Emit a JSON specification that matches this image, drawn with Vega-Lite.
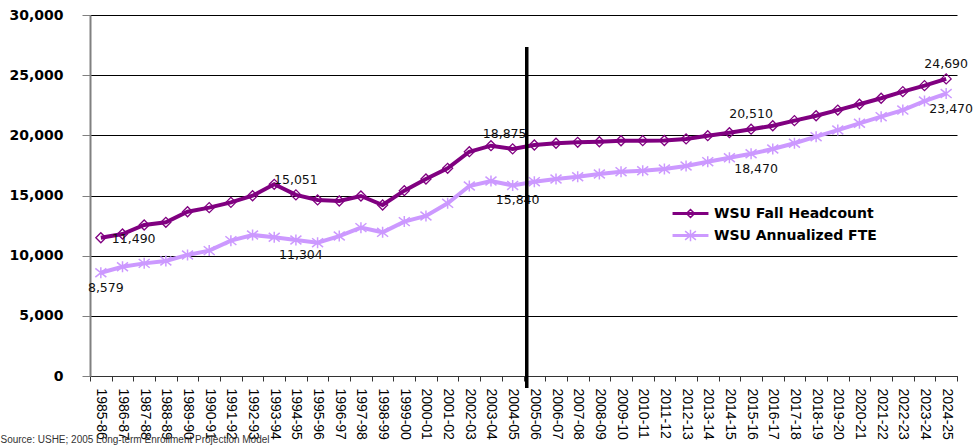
{
  "$schema": "https://vega.github.io/schema/vega-lite/v6.json",
  "width": 867,
  "height": 361,
  "autosize": {"type": "none"},
  "padding": {"left": 90, "top": 15, "right": 22, "bottom": 70},
  "background": "white",
  "config": {"view": {"stroke": null}, "font": "Liberation Sans"},
  "data": {"values": [
    {"year": "1985-86", "series": "WSU Fall Headcount", "value": 11490, "labeled": true},
    {"year": "1986-87", "series": "WSU Fall Headcount", "value": 11800, "labeled": false},
    {"year": "1987-88", "series": "WSU Fall Headcount", "value": 12550, "labeled": false},
    {"year": "1988-89", "series": "WSU Fall Headcount", "value": 12770, "labeled": false},
    {"year": "1989-90", "series": "WSU Fall Headcount", "value": 13650, "labeled": false},
    {"year": "1990-91", "series": "WSU Fall Headcount", "value": 13990, "labeled": false},
    {"year": "1991-92", "series": "WSU Fall Headcount", "value": 14430, "labeled": false},
    {"year": "1992-93", "series": "WSU Fall Headcount", "value": 14980, "labeled": false},
    {"year": "1993-94", "series": "WSU Fall Headcount", "value": 15930, "labeled": false},
    {"year": "1994-95", "series": "WSU Fall Headcount", "value": 15051, "labeled": true},
    {"year": "1995-96", "series": "WSU Fall Headcount", "value": 14630, "labeled": false},
    {"year": "1996-97", "series": "WSU Fall Headcount", "value": 14540, "labeled": false},
    {"year": "1997-98", "series": "WSU Fall Headcount", "value": 14960, "labeled": false},
    {"year": "1998-99", "series": "WSU Fall Headcount", "value": 14210, "labeled": false},
    {"year": "1999-00", "series": "WSU Fall Headcount", "value": 15400, "labeled": false},
    {"year": "2000-01", "series": "WSU Fall Headcount", "value": 16370, "labeled": false},
    {"year": "2001-02", "series": "WSU Fall Headcount", "value": 17260, "labeled": false},
    {"year": "2002-03", "series": "WSU Fall Headcount", "value": 18640, "labeled": false},
    {"year": "2003-04", "series": "WSU Fall Headcount", "value": 19140, "labeled": false},
    {"year": "2004-05", "series": "WSU Fall Headcount", "value": 18875, "labeled": true},
    {"year": "2005-06", "series": "WSU Fall Headcount", "value": 19200, "labeled": false},
    {"year": "2006-07", "series": "WSU Fall Headcount", "value": 19340, "labeled": false},
    {"year": "2007-08", "series": "WSU Fall Headcount", "value": 19420, "labeled": false},
    {"year": "2008-09", "series": "WSU Fall Headcount", "value": 19470, "labeled": false},
    {"year": "2009-10", "series": "WSU Fall Headcount", "value": 19550, "labeled": false},
    {"year": "2010-11", "series": "WSU Fall Headcount", "value": 19560, "labeled": false},
    {"year": "2011-12", "series": "WSU Fall Headcount", "value": 19570, "labeled": false},
    {"year": "2012-13", "series": "WSU Fall Headcount", "value": 19700, "labeled": false},
    {"year": "2013-14", "series": "WSU Fall Headcount", "value": 19970, "labeled": false},
    {"year": "2014-15", "series": "WSU Fall Headcount", "value": 20220, "labeled": false},
    {"year": "2015-16", "series": "WSU Fall Headcount", "value": 20510, "labeled": true},
    {"year": "2016-17", "series": "WSU Fall Headcount", "value": 20800, "labeled": false},
    {"year": "2017-18", "series": "WSU Fall Headcount", "value": 21220, "labeled": false},
    {"year": "2018-19", "series": "WSU Fall Headcount", "value": 21630, "labeled": false},
    {"year": "2019-20", "series": "WSU Fall Headcount", "value": 22100, "labeled": false},
    {"year": "2020-21", "series": "WSU Fall Headcount", "value": 22580, "labeled": false},
    {"year": "2021-22", "series": "WSU Fall Headcount", "value": 23080, "labeled": false},
    {"year": "2022-23", "series": "WSU Fall Headcount", "value": 23630, "labeled": false},
    {"year": "2023-24", "series": "WSU Fall Headcount", "value": 24130, "labeled": false},
    {"year": "2024-25", "series": "WSU Fall Headcount", "value": 24690, "labeled": true},
    {"year": "1985-86", "series": "WSU Annualized FTE", "value": 8579, "labeled": true},
    {"year": "1986-87", "series": "WSU Annualized FTE", "value": 9080, "labeled": false},
    {"year": "1987-88", "series": "WSU Annualized FTE", "value": 9360, "labeled": false},
    {"year": "1988-89", "series": "WSU Annualized FTE", "value": 9560, "labeled": false},
    {"year": "1989-90", "series": "WSU Annualized FTE", "value": 10060, "labeled": false},
    {"year": "1990-91", "series": "WSU Annualized FTE", "value": 10420, "labeled": false},
    {"year": "1991-92", "series": "WSU Annualized FTE", "value": 11250, "labeled": false},
    {"year": "1992-93", "series": "WSU Annualized FTE", "value": 11720, "labeled": false},
    {"year": "1993-94", "series": "WSU Annualized FTE", "value": 11530, "labeled": false},
    {"year": "1994-95", "series": "WSU Annualized FTE", "value": 11304, "labeled": true},
    {"year": "1995-96", "series": "WSU Annualized FTE", "value": 11080, "labeled": false},
    {"year": "1996-97", "series": "WSU Annualized FTE", "value": 11630, "labeled": false},
    {"year": "1997-98", "series": "WSU Annualized FTE", "value": 12330, "labeled": false},
    {"year": "1998-99", "series": "WSU Annualized FTE", "value": 11940, "labeled": false},
    {"year": "1999-00", "series": "WSU Annualized FTE", "value": 12830, "labeled": false},
    {"year": "2000-01", "series": "WSU Annualized FTE", "value": 13300, "labeled": false},
    {"year": "2001-02", "series": "WSU Annualized FTE", "value": 14350, "labeled": false},
    {"year": "2002-03", "series": "WSU Annualized FTE", "value": 15790, "labeled": false},
    {"year": "2003-04", "series": "WSU Annualized FTE", "value": 16200, "labeled": false},
    {"year": "2004-05", "series": "WSU Annualized FTE", "value": 15840, "labeled": true},
    {"year": "2005-06", "series": "WSU Annualized FTE", "value": 16150, "labeled": false},
    {"year": "2006-07", "series": "WSU Annualized FTE", "value": 16370, "labeled": false},
    {"year": "2007-08", "series": "WSU Annualized FTE", "value": 16560, "labeled": false},
    {"year": "2008-09", "series": "WSU Annualized FTE", "value": 16790, "labeled": false},
    {"year": "2009-10", "series": "WSU Annualized FTE", "value": 16980, "labeled": false},
    {"year": "2010-11", "series": "WSU Annualized FTE", "value": 17060, "labeled": false},
    {"year": "2011-12", "series": "WSU Annualized FTE", "value": 17200, "labeled": false},
    {"year": "2012-13", "series": "WSU Annualized FTE", "value": 17450, "labeled": false},
    {"year": "2013-14", "series": "WSU Annualized FTE", "value": 17810, "labeled": false},
    {"year": "2014-15", "series": "WSU Annualized FTE", "value": 18140, "labeled": false},
    {"year": "2015-16", "series": "WSU Annualized FTE", "value": 18470, "labeled": true},
    {"year": "2016-17", "series": "WSU Annualized FTE", "value": 18860, "labeled": false},
    {"year": "2017-18", "series": "WSU Annualized FTE", "value": 19340, "labeled": false},
    {"year": "2018-19", "series": "WSU Annualized FTE", "value": 19890, "labeled": false},
    {"year": "2019-20", "series": "WSU Annualized FTE", "value": 20440, "labeled": false},
    {"year": "2020-21", "series": "WSU Annualized FTE", "value": 21000, "labeled": false},
    {"year": "2021-22", "series": "WSU Annualized FTE", "value": 21550, "labeled": false},
    {"year": "2022-23", "series": "WSU Annualized FTE", "value": 22100, "labeled": false},
    {"year": "2023-24", "series": "WSU Annualized FTE", "value": 22850, "labeled": false},
    {"year": "2024-25", "series": "WSU Annualized FTE", "value": 23470, "labeled": true}
  ]},
  "encoding": {
    "x": {
      "field": "year", "type": "ordinal", "sort": null,
      "scale": {"type": "band", "paddingInner": 0, "paddingOuter": 0},
      "axis": {
        "title": "Source: USHE; 2005 Long-term Enrollment Projection Model",
        "titleX": -90, "titleY": 66, "titleAlign": "left", "titleBaseline": "alphabetic",
        "titleFont": "Liberation Sans", "titleFontSize": 10, "titleFontWeight": "normal", "titleColor": "#333333",
        "labelAngle": 90, "labelAlign": "left", "labelBaseline": "middle",
        "labelFont": "Liberation Sans", "labelFontSize": 14, "labelColor": "#000000",
        "labelPadding": 7, "labelOverlap": false, "tickBand": "extent", "tickSize": 5,
        "tickColor": "#333333", "domainColor": "#333333", "grid": false
      }
    },
    "y": {
      "field": "value", "type": "quantitative",
      "scale": {"domain": [0, 30000], "nice": false},
      "axis": {
        "title": null, "values": [0, 5000, 10000, 15000, 20000, 25000, 30000], "format": ",.0f",
        "labelFont": "DejaVu Sans", "labelFontWeight": "bold", "labelFontSize": 14, "labelColor": "#000000",
        "labelPadding": 19, "tickSize": 8, "tickColor": "#808080", "domainColor": "#808080", "domainWidth": 2,
        "grid": true, "gridColor": "#000000", "gridWidth": 1
      }
    }
  },
  "layer": [
    {
      "mark": {"type": "line", "strokeWidth": 4},
      "encoding": {
        "color": {
          "field": "series", "type": "nominal",
          "scale": {"domain": ["WSU Fall Headcount", "WSU Annualized FTE"], "range": ["#800080", "#CC99FF"]},
          "legend": {
            "title": null, "orient": "none", "legendX": 586, "legendY": 184, "padding": 0,
            "labelFont": "DejaVu Sans", "labelFontWeight": "bold", "labelFontSize": 14, "labelColor": "#000000",
            "labelLimit": 400,
            "symbolSize": 729, "symbolStrokeWidth": 1.5, "labelOffset": 9, "rowPadding": 0,
            "encode": {"symbols": {"update": {
              "shape": {"signal": "datum.value === 'WSU Fall Headcount' ? 'M-1.33,-0.055H1.33M-1.33,0.055H1.33M-0.3,0L0,-0.3L0.3,0L0,0.3Z' : 'M-1.33,-0.055H1.33M-1.33,0.055H1.33M-0.4,-0.32L0.4,0.32M-0.4,0.32L0.4,-0.32M0,-0.42V0.42'"},
              "fill": {"value": "transparent"}
            }}}
          }
        }
      }
    },
    {
      "transform": [{"filter": "datum.series === 'WSU Fall Headcount'"}],
      "mark": {"type": "point", "shape": "diamond", "filled": false, "strokeWidth": 1.3, "opacity": 1, "color": "#800080", "size": 100}
    },
    {
      "transform": [{"filter": "datum.series === 'WSU Annualized FTE'"}],
      "mark": {"type": "point", "shape": "M-1,-0.8L1,0.8M-1,0.8L1,-0.8M0,-1V1", "filled": false, "strokeWidth": 1.5, "opacity": 1, "color": "#CC99FF", "size": 121}
    },
    {
      "transform": [{"filter": "datum.labeled && datum.series === 'WSU Fall Headcount' && datum.year !== '1985-86' && datum.year !== '2004-05'"}],
      "mark": {"type": "text", "dy": -15, "font": "DejaVu Sans", "fontSize": 12.5, "color": "#111111"},
      "encoding": {"text": {"field": "value", "type": "quantitative", "format": ","}}
    },
    {
      "transform": [{"filter": "datum.labeled && datum.year === '2004-05' && datum.series === 'WSU Fall Headcount'"}],
      "mark": {"type": "text", "dy": -15, "dx": -8, "font": "DejaVu Sans", "fontSize": 12.5, "color": "#111111"},
      "encoding": {"text": {"field": "value", "type": "quantitative", "format": ","}}
    },
    {
      "transform": [{"filter": "datum.labeled && datum.series === 'WSU Fall Headcount' && datum.year === '1985-86'"}],
      "mark": {"type": "text", "align": "left", "dx": 11, "dy": 1, "font": "DejaVu Sans", "fontSize": 12.5, "color": "#111111"},
      "encoding": {"text": {"field": "value", "type": "quantitative", "format": ","}}
    },
    {
      "transform": [{"filter": "datum.labeled && datum.series === 'WSU Annualized FTE'"}],
      "mark": {"type": "text", "dy": 15, "dx": 5, "font": "DejaVu Sans", "fontSize": 12.5, "color": "#111111"},
      "encoding": {"text": {"field": "value", "type": "quantitative", "format": ","}}
    },
    {
      "transform": [{"filter": "datum.year === '2005-06' && datum.series === 'WSU Fall Headcount'"}],
      "mark": {"type": "rule", "strokeWidth": 3.5, "color": "#000000"},
      "encoding": {
        "x": {"field": "year", "type": "ordinal", "bandPosition": 0.15},
        "y": {"datum": 27350, "type": "quantitative"},
        "y2": {"datum": -1000}
      }
    }
  ]
}
